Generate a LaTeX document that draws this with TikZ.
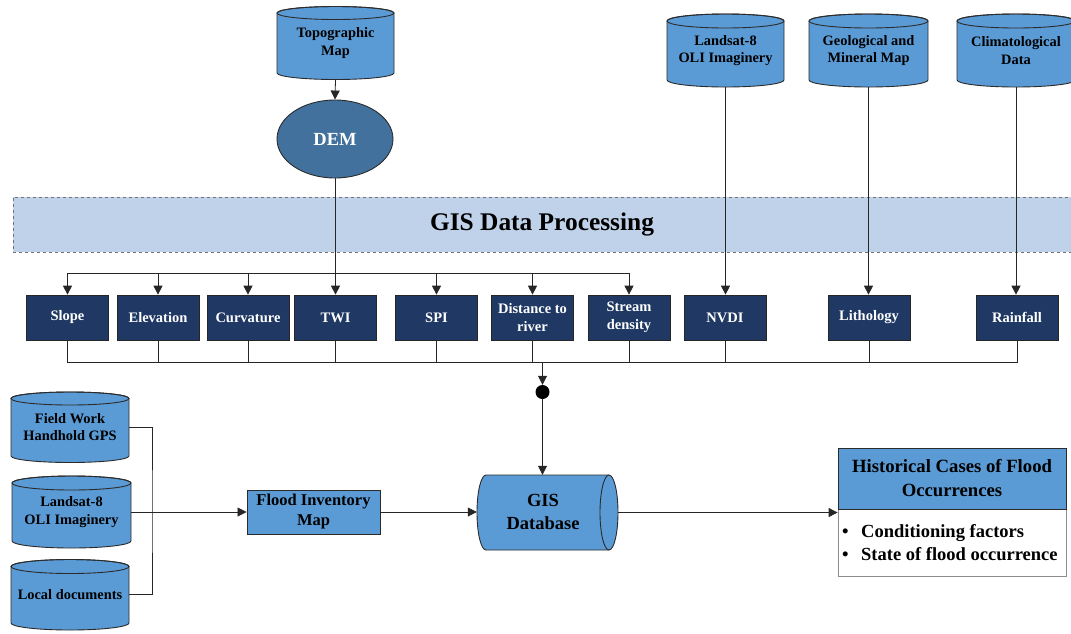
\documentclass[tikz,border=0pt]{standalone}
\usepackage{fontspec}
\setmainfont{Liberation Serif}
\usetikzlibrary{arrows.meta,shapes.geometric}
\definecolor{cylblue}{HTML}{5B9BD5}
\definecolor{demblue}{HTML}{41719C}
\definecolor{navybox}{HTML}{1F3864}
\definecolor{bandblue}{HTML}{BFD2EA}
\definecolor{edgegray}{HTML}{2B2B2B}
% name, cx, top centre y, bottom centre y, half width, ry, text
\newcommand{\dbcyl}[7]{%
  \filldraw[cylblue, draw=edgegray, line width=0.9pt]
    ({#2-#5},{#3}) -- ({#2-#5},{#4})
    arc[start angle=180,end angle=0,x radius=#5,y radius=#6]
    -- ({#2+#5},{#3})
    arc[start angle=0,end angle=-180,x radius=#5,y radius=#6] -- cycle;
  \draw[edgegray, line width=0.9pt] ({#2},{#3}) ellipse[x radius=#5, y radius=#6];
  \node[cyltext, minimum width={2*#5}, minimum height={#4-#3+2*#6}] (#1) at ({#2},{(#3+#4)/2}) {#7};
}
\tikzset{
  cyltext/.style={inner sep=0pt, align=center, font=\fontsize{14.4}{17.5}\selectfont\bfseries},
  factor/.style={rectangle, fill=navybox, draw=black!85, line width=0.7pt, text=white,
    minimum width=82, minimum height=45, inner sep=0pt, align=center,
    font=\fontsize{14.5}{18}\selectfont\bfseries},
  conn/.style={draw=black!85, line width=0.8pt},
  arr/.style={conn, -{Triangle[length=9pt,width=9pt]}},
}
\begin{document}
\begin{tikzpicture}[x=1pt,y=-1pt]
\useasboundingbox (0,0) rectangle (1071,633);

% GIS Data Processing band
\node[rectangle, fill=bandblue, draw=black!55, dashed, line width=0.6pt,
  minimum width=1058, minimum height=55, inner sep=0pt,
  font=\fontsize{25.4}{28}\selectfont\bfseries] (band) at (542,224.5) {GIS Data Processing};

% Sources
\dbcyl{topo}{335.5}{13}{73}{58.5}{6.5}{Topographic\\Map}
\dbcyl{lsat}{725.5}{21}{80}{58.5}{7}{Landsat-8\\OLI Imaginery}
\dbcyl{geo}{868.5}{21}{80}{59.5}{7}{Geological and\\Mineral Map}
\dbcyl{clim}{1016}{21}{80}{59}{7}{Climatological\\Data}

% DEM
\node[ellipse, fill=demblue, draw=edgegray, line width=0.9pt, minimum width=116, minimum height=78,
  inner sep=0pt, text=white, font=\fontsize{18.5}{20}\selectfont\bfseries] (dem) at (335,139) {DEM};

% Factor boxes
\node[factor] (slope) at (67.5,317.5) {Slope};
\node[factor] (elev) at (158,317.5) {Elevation};
\node[factor] (curv) at (248,317.5) {Curvature};
\node[factor] (twi) at (335.5,317.5) {TWI};
\node[factor] (spi) at (436.5,317.5) {SPI};
\node[factor] (dist) at (532.5,317.5) {Distance to\\river};
\node[factor] (stream) at (629,317.5) {Stream\\density};
\node[factor] (nvdi) at (725,317.5) {NVDI};
\node[factor] (lith) at (869,317.5) {Lithology};
\node[factor] (rain) at (1017,317.5) {Rainfall};

% Top connectors
\draw[arr] (topo.south) -- (dem.north);
\coordinate (bt) at (335,273);
\draw[conn] (dem.south) -- (bt);
\foreach \b in {slope,elev,curv,twi,spi,dist,stream}{
  \draw[arr] (bt) -| (\b.north);
}
\draw[arr] (lsat.south) -- (lsat.south |- nvdi.north);
\draw[arr] (geo.south) -- (geo.south |- lith.north);
\draw[arr] (clim.south) -- (clim.south |- rain.north);

% Bottom bus
\coordinate (bb) at (542.5,362);
\foreach \b in {slope,elev,curv,twi,spi,dist,stream,nvdi,lith,rain}{
  \draw[conn] (\b.south) |- (bb);
}
\node[circle, fill=black, minimum size=14, inner sep=0pt] (dot) at (542.5,392) {};
\draw[arr] (bb) -- (dot.north);

% GIS Database
\filldraw[cylblue, draw=edgegray, line width=0.9pt]
  (486,475) -- (609,475)
  arc[start angle=-90,end angle=90,x radius=9,y radius=37.5]
  -- (486,550)
  arc[start angle=90,end angle=270,x radius=9,y radius=37.5] -- cycle;
\draw[edgegray, line width=0.9pt] (609,475) arc[start angle=-90,end angle=-270,x radius=9,y radius=37.5];
\node[inner sep=0pt, minimum width=141, minimum height=75] (gisdb) at (547.5,512.5) {};
\node[inner sep=0pt, align=center, font=\fontsize{18.5}{23}\selectfont\bfseries] (gisdbtext) at (543,512) {GIS\\Database};
\draw[arr] (dot.south) -- (dot |- gisdb.north);

% Left sources
\dbcyl{fw}{70}{398.5}{456}{59}{6.5}{Field Work\\Handhold GPS}
\dbcyl{ls2}{71.5}{483}{541}{59.5}{7}{Landsat-8\\OLI Imaginery}
\dbcyl{local}{70}{566.5}{623}{59}{7}{Local documents}

% Flood inventory
\node[rectangle, fill=cylblue, draw=edgegray, line width=0.9pt, minimum width=133, minimum height=44,
  inner sep=0pt, align=center, font=\fontsize{16.5}{20}\selectfont\bfseries] (flood) at (313.5,512) {Flood Inventory\\Map};
\coordinate (j) at (152,512);
\draw[conn] (fw.east) -| (j) |- (local.east);
\draw[arr] (ls2.east) -- (flood.west);
\draw[arr] (flood.east) -- (flood.east -| gisdb.west);

% Historical cases
\node[rectangle, fill=white, draw=black!45, line width=0.8pt, minimum width=228, minimum height=67,
  inner sep=0pt] (histbody) at (952,542.5) {};
\node[rectangle, fill=cylblue, draw=edgegray, line width=0.9pt, minimum width=228, minimum height=61,
  inner sep=0pt, align=center, font=\fontsize{18.7}{24}\selectfont\bfseries] (hist) at (952,478.5)
  {Historical Cases of Flood\\Occurrences};
\node[anchor=west, inner sep=0pt, align=left, font=\fontsize{18.5}{23}\selectfont\bfseries] (histlist) at (842,542.5)
  {\makebox[19pt][l]{\textbullet}Conditioning factors\\\makebox[19pt][l]{\textbullet}State of flood occurrence};
\draw[arr] (gisdb.east) -- (gisdb.east -| histbody.west);
\end{tikzpicture}
\end{document}
